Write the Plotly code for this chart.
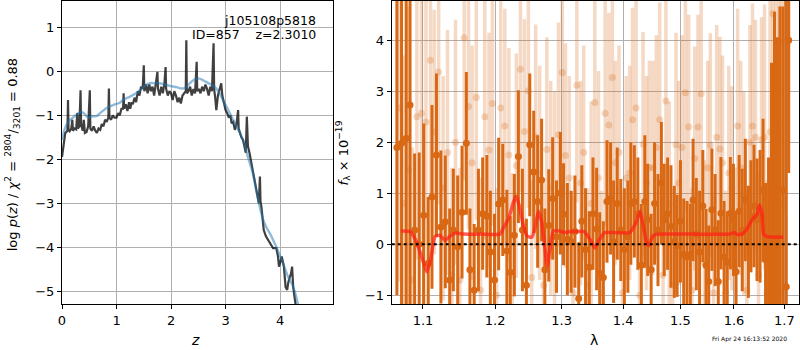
import plotly.graph_objects as go

# ---------------- left panel: redshift PDF ----------------
z_grid = [0.00, 0.02, 0.04, 0.06, 0.08, 0.10, 0.11, 0.12, 0.14, 0.17, 0.19, 0.20, 0.23, 0.26, 0.28, 0.29,
          0.32, 0.34, 0.35, 0.38, 0.40, 0.42, 0.45, 0.48, 0.51, 0.52, 0.55, 0.58, 0.61, 0.64, 0.67, 0.70,
          0.73, 0.76, 0.79, 0.82, 0.85, 0.86, 0.87, 0.90, 0.93, 0.96, 1.00, 1.03, 1.06, 1.09, 1.12, 1.13,
          1.14, 1.17, 1.20, 1.23, 1.25, 1.28, 1.30, 1.33, 1.36, 1.39, 1.42, 1.45, 1.48, 1.50, 1.51, 1.54,
          1.57, 1.60, 1.63, 1.66, 1.69, 1.72, 1.75, 1.76, 1.79, 1.82, 1.85, 1.88, 1.90, 1.91, 1.94, 1.97,
          2.00, 2.03, 2.06, 2.09, 2.12, 2.15, 2.18, 2.21, 2.24, 2.27, 2.28, 2.29, 2.32, 2.35, 2.38, 2.41,
          2.44, 2.47, 2.48, 2.51, 2.54, 2.57, 2.60, 2.63, 2.66, 2.69, 2.72, 2.75, 2.78, 2.79, 2.81, 2.83,
          2.86, 2.89, 2.92, 2.94, 2.97, 3.00, 3.03, 3.06, 3.09, 3.11, 3.14, 3.17, 3.20, 3.23, 3.24, 3.26,
          3.29, 3.32, 3.35, 3.37, 3.39, 3.41, 3.44, 3.47, 3.50, 3.53, 3.57, 3.61, 3.63, 3.64, 3.66, 3.70,
          3.74, 3.78, 3.82, 3.87, 3.93, 3.96, 3.98, 4.01, 4.03, 4.07, 4.10, 4.13, 4.15, 4.18, 4.20, 4.22,
          4.24, 4.28, 4.32]
log_pz = [-1.95, -1.75, -1.50, -1.40, -1.38, -1.35, -0.65, -1.32, -1.36, -1.30, -1.10, -1.35, -1.30, -1.32, -0.95, -1.30,
          -1.25, -0.43, -1.20, -1.35, -1.10, -1.40, -1.38, -1.25, -0.43, -1.30, -1.35, -1.25, -1.35, -1.40, -1.30, -1.33,
          -1.20, -1.25, -1.10, -1.15, -1.05, -0.39, -1.05, -1.10, -1.00, -1.05, -1.05, -0.95, -1.00, -0.85, -0.85, -0.50,
          -0.85, -0.75, -0.90, -0.70, -0.85, -0.70, -0.75, -0.60, -0.70, -0.45, -0.55, -0.35, -0.40, 0.14, -0.45, -0.30,
          -0.50, -0.30, -0.45, -0.35, -0.55, -0.30, -0.01, -0.40, -0.55, -0.35, -0.50, -0.25, 0.10, -0.40, -0.55, -0.45,
          -0.50, -0.65, -0.45, -0.55, -0.70, -0.60, -0.73, -0.55, -0.50, -0.45, 0.71, -0.50, -0.45, -0.35, -0.55, -0.40,
          -0.50, 0.22, -0.45, -0.40, -0.50, -0.35, -0.45, -0.30, -0.40, -0.55, -0.35, -0.45, 0.64, -0.40, -0.60, -0.88,
          -0.55, -0.40, -0.27, -0.55, -0.70, -0.88, -0.95, -1.05, -1.00, -1.18, -1.15, -1.33, -1.20, -0.88, -1.30, -1.41,
          -1.50, -1.56, -1.75, -1.85, -1.03, -1.70, -1.86, -2.05, -2.32, -2.45, -2.77, -3.00, -2.39, -2.95, -3.11, -3.61,
          -3.75, -3.83, -3.92, -4.02, -4.02, -4.20, -4.44, -4.30, -4.21, -4.44, -4.90, -4.97, -4.80, -4.67, -4.60, -4.44,
          -4.90, -5.27, -5.60]

z_smooth = [0.00, 0.04, 0.08, 0.14, 0.20, 0.27, 0.34, 0.40, 0.48, 0.55, 0.63, 0.70, 0.80, 0.87, 0.95, 1.05,
            1.12, 1.20, 1.36, 1.50, 1.61, 1.70, 1.79, 1.90, 1.98, 2.10, 2.22, 2.30, 2.37, 2.45, 2.50, 2.57,
            2.64, 2.72, 2.80, 2.88, 2.95, 3.05, 3.14, 3.23, 3.32, 3.41, 3.50, 3.57, 3.64, 3.69, 3.75, 3.82,
            3.87, 3.95, 4.05, 4.15, 4.24, 4.33, 4.38]
log_pz_smooth = [-1.56, -1.35, -1.22, -1.12, -1.05, -0.98, -0.92, -0.95, -1.05, -1.02, -1.02, -0.95, -0.85, -0.80, -0.76, -0.72,
                 -0.65, -0.60, -0.50, -0.35, -0.27, -0.27, -0.27, -0.30, -0.33, -0.36, -0.39, -0.33, -0.24, -0.17, -0.16, -0.19,
                 -0.24, -0.29, -0.35, -0.48, -0.65, -0.88, -1.10, -1.32, -1.56, -1.95, -2.32, -2.75, -3.15, -3.38, -3.55, -3.70,
                 -3.83, -4.05, -4.36, -4.68, -4.90, -5.30, -5.60]

# ---------------- right panel: spectrum ----------------
wave_a = [1.066, 1.072, 1.078, 1.083, 1.089, 1.095, 1.101, 1.107, 1.112, 1.118, 1.124, 1.130, 1.136, 1.141, 1.147, 1.153,
          1.159, 1.164, 1.170, 1.176, 1.182, 1.188, 1.193, 1.199, 1.205, 1.211, 1.217, 1.222, 1.228, 1.234, 1.240, 1.246,
          1.251, 1.257, 1.263, 1.269, 1.274, 1.280, 1.286, 1.292, 1.298, 1.303, 1.309, 1.315, 1.321, 1.327, 1.332, 1.338,
          1.344, 1.350, 1.356, 1.361, 1.367, 1.373, 1.379, 1.384, 1.390, 1.396, 1.402, 1.408, 1.413, 1.419, 1.425, 1.431,
          1.437, 1.442, 1.448, 1.454, 1.460, 1.466, 1.471, 1.477, 1.483, 1.489, 1.494, 1.500, 1.506, 1.512, 1.518, 1.523,
          1.529, 1.535, 1.541, 1.547, 1.552, 1.558, 1.564, 1.570, 1.575, 1.581, 1.587, 1.593, 1.599, 1.604, 1.610, 1.616,
          1.622, 1.628, 1.633, 1.639, 1.645, 1.651, 1.657, 1.662, 1.668, 1.674, 1.680, 1.686, 1.691, 1.697, 1.704, 1.709]
flux_a = [1.90, 1.98, 2.08, 2.73, 0.28, 0.00, 0.57, -0.37, 0.93, 1.75, 0.34, 0.44, -0.70, 0.28, -0.05, 0.63,
          1.98, -0.50, -0.90, 0.28, 0.60, 0.55, -0.15, -0.70, 0.79, 0.87, -0.13, -0.55, 0.18, 1.72, 0.28, -0.80,
          1.95, 1.42, 0.84, 1.26, -0.50, 0.37, 0.90, 0.15, 1.00, 0.59, 0.10, 0.05, 0.25, -1.06, 0.45, -0.10,
          -0.45, 0.60, 0.30, -0.57, -0.65, 0.84, 0.90, 0.05, 0.80, 0.28, -0.10, 0.15, 0.80, 0.84, 0.60, -0.41,
          0.84, 0.48, -0.50, 0.80, 0.28, 1.20, 0.48, 0.60, 0.35, 0.05, -0.03, 0.45, -0.20, -0.25, -0.20, 0.87,
          0.20, -0.15, 0.75, -0.41, -0.73, 0.68, 0.28, -0.73, 0.61, -0.25, -0.35, 0.61, 0.48, -0.54, 0.65, 0.28,
          0.87, 0.05, 0.55, 0.75, 0.48, 0.55, 1.06, -0.30, -0.10, 1.06, 1.06, 1.06, 1.06, 1.06, -0.83, 4.00]
err_a = [2.9, 4.5, 3.8, 4.5, 1.5, 1.8, 1.8, 1.3, 1.8, 1.6, 1.5, 1.3, 1.4, 1.2, 1.4, 1.3,
         1.4, 1.2, 1.3, 1.2, 1.1, 1.2, 1.2, 1.3, 1.3, 1.1, 1.2, 1.1, 1.2, 1.3, 1.2, 1.3,
         1.4, 1.2, 1.3, 1.2, 1.2, 1.1, 1.2, 1.1, 1.2, 1.0, 1.1, 1.0, 1.1, 1.1, 1.1, 1.2,
         1.1, 1.1, 1.2, 1.2, 1.1, 1.2, 1.1, 1.2, 1.1, 1.0, 1.2, 1.1, 1.2, 1.1, 1.1, 1.2,
         1.3, 1.1, 1.1, 1.2, 1.1, 1.2, 1.1, 1.1, 1.2, 1.1, 1.0, 1.2, 1.1, 1.1, 1.0, 1.2,
         1.1, 1.2, 1.1, 1.1, 1.1, 1.2, 1.1, 1.2, 1.1, 1.1, 1.0, 1.1, 1.1, 1.2, 1.1, 1.2,
         1.2, 1.1, 1.1, 1.2, 1.2, 1.3, 1.4, 1.5, 1.8, 2.5, 3.5, 3.0, 3.6, 3.6, 6.0, 2.6]

wave_b = [1.069, 1.075, 1.081, 1.086, 1.092, 1.098, 1.104, 1.110, 1.115, 1.121, 1.127, 1.133, 1.139, 1.144, 1.150, 1.156,
          1.162, 1.167, 1.173, 1.179, 1.185, 1.191, 1.196, 1.202, 1.208, 1.214, 1.220, 1.225, 1.231, 1.237, 1.243, 1.249,
          1.254, 1.260, 1.266, 1.272, 1.277, 1.283, 1.289, 1.295, 1.301, 1.306, 1.312, 1.318, 1.324, 1.330, 1.335, 1.341,
          1.347, 1.353, 1.359, 1.364, 1.370, 1.376, 1.382, 1.387, 1.393, 1.399, 1.405, 1.411, 1.416, 1.422, 1.428, 1.434,
          1.440, 1.445, 1.451, 1.457, 1.463, 1.469, 1.474, 1.480, 1.486, 1.492, 1.497, 1.503, 1.509, 1.515, 1.521, 1.526,
          1.532, 1.538, 1.544, 1.550, 1.555, 1.561, 1.567, 1.573, 1.578, 1.584, 1.590, 1.596, 1.602, 1.607, 1.613, 1.619,
          1.625, 1.631, 1.636, 1.642, 1.648, 1.654, 1.660, 1.665, 1.671, 1.677, 1.683, 1.689, 1.694, 1.700]
flux_b = [2.67, 0.80, 1.46, -0.70, 2.50, 2.57, 2.40, 3.61, 2.20, 3.38, 1.10, 1.80, -0.60, 2.00, -0.70, 4.05,
          2.70, 1.60, 2.88, -0.90, 2.50, 1.85, 2.76, -1.00, 2.67, 2.32, 1.75, -0.60, 1.54, 3.43, 2.21, 3.01,
          -0.65, 2.11, 1.40, -0.80, 1.86, 1.10, 0.90, 2.15, 3.37, 1.74, 1.30, -0.95, 3.12, 1.20, 1.80, -0.80,
          0.80, 2.78, 1.30, -0.95, 2.57, 2.34, 3.27, 1.60, 1.80, -0.95, 1.30, 1.40, 2.44, 2.67, -1.00, 1.96,
          1.20, 1.50, 1.50, 1.90, 2.44, -0.60, 2.81, 0.80, -0.80, 1.95, 1.20, 1.90, 2.97, 2.30, -0.90, 1.68,
          2.30, 2.95, -0.35, 1.50, 1.94, -0.95, 2.10, 1.87, 1.60, -0.95, 1.40, 1.10, -0.50, 2.32, 1.50, 1.00,
          -0.90, 2.00, 2.32, 2.10, -0.60, 2.05, 2.10, -0.95, 2.20, 4.52, 2.40, 2.30, 0.80, 4.00]
err_b = [3.4, 2.9, 3.2, 2.6, 2.8, 2.6, 2.4, 2.7, 2.4, 2.6, 2.2, 2.4, 2.1, 2.4, 2.2, 2.8,
         2.4, 2.3, 2.4, 2.2, 2.4, 2.3, 2.4, 2.1, 2.4, 2.3, 2.1, 2.0, 2.2, 2.4, 2.2, 2.3,
         1.9, 2.2, 2.1, 2.0, 2.2, 2.1, 2.1, 2.2, 2.4, 2.2, 2.0, 1.9, 2.3, 2.0, 2.1, 1.9,
         2.0, 2.3, 2.1, 2.0, 2.2, 2.2, 2.4, 2.0, 2.1, 1.9, 2.0, 2.1, 2.2, 2.3, 2.0, 2.2,
         2.1, 2.1, 2.1, 2.2, 2.3, 1.9, 2.3, 2.0, 1.9, 2.2, 2.0, 2.2, 2.3, 2.2, 2.0, 2.2,
         2.2, 2.3, 2.0, 2.1, 2.2, 1.9, 2.2, 2.2, 2.1, 2.0, 2.1, 2.0, 2.0, 2.3, 2.1, 2.0,
         1.9, 2.3, 2.4, 2.3, 2.0, 2.4, 2.6, 2.2, 3.2, 3.9, 3.6, 3.9, 4.4, 3.4]

model_wave = [1.071, 1.083, 1.090, 1.098, 1.105, 1.110, 1.116, 1.122, 1.130, 1.138, 1.146, 1.155, 1.180, 1.207, 1.212, 1.2196,
              1.227, 1.231, 1.236, 1.241, 1.247, 1.254, 1.259, 1.264, 1.269, 1.274, 1.2775, 1.282, 1.287, 1.297, 1.305, 1.313,
              1.3245, 1.336, 1.345, 1.353, 1.361, 1.369, 1.384, 1.411, 1.417, 1.4226, 1.429, 1.435, 1.4395, 1.444, 1.4505, 1.459,
              1.520, 1.591, 1.600, 1.607, 1.616, 1.625, 1.636, 1.645, 1.650, 1.655, 1.658, 1.665, 1.6975]
model_flux = [0.26, 0.25, 0.10, -0.23, -0.54, -0.31, 0.15, 0.18, 0.08, 0.18, 0.22, 0.20, 0.20, 0.20, 0.32, 0.51,
              0.84, 0.94, 0.72, 0.39, 0.16, 0.14, 0.32, 0.65, 0.45, -0.07, -0.43, -0.07, 0.26, 0.26, 0.23, 0.25,
              0.25, 0.25, 0.10, -0.07, 0.10, 0.23, 0.23, 0.23, 0.32, 0.45, 0.65, 0.32, 0.06, -0.03, 0.16, 0.20,
              0.20, 0.20, 0.23, 0.19, 0.20, 0.30, 0.49, 0.59, 0.77, 0.59, 0.20, 0.15, 0.14]

x_ticks_left = [0, 1, 2, 3, 4]
y_ticks_left = [-5, -4, -3, -2, -1, 0, 1]
x_ticks_right = [1.1, 1.2, 1.3, 1.4, 1.5, 1.6, 1.7]
x_ticklabels_right = ["1.1", "1.2", "1.3", "1.4", "1.5", "1.6", "1.7"]
y_ticks_right = [-1, 0, 1, 2, 3, 4]

ORANGE = "rgb(217,104,20)"
ORANGE_LIGHT = "rgba(217,104,20,0.25)"
FONT = "DejaVu Sans"

fig = go.Figure()

fig.add_trace(go.Scatter(x=z_grid, y=log_pz, mode="lines",
                         line=dict(color="rgba(0,0,0,0.75)", width=2.2),
                         xaxis="x", yaxis="y", showlegend=False))
fig.add_trace(go.Scatter(x=z_smooth, y=log_pz_smooth, mode="lines",
                         line=dict(color="rgba(31,119,180,0.5)", width=2.4, shape="spline"),
                         xaxis="x", yaxis="y", showlegend=False))

fig.add_trace(go.Scatter(x=wave_b, y=flux_b, mode="markers",
                         marker=dict(color=ORANGE_LIGHT, size=7, line=dict(width=0)),
                         error_y=dict(type="data", array=err_b, color=ORANGE_LIGHT, thickness=3.5, width=0),
                         xaxis="x2", yaxis="y2", showlegend=False, cliponaxis=True))
fig.add_trace(go.Scatter(x=wave_a, y=flux_a, mode="markers",
                         marker=dict(color=ORANGE, size=7, line=dict(width=0)),
                         error_y=dict(type="data", array=err_a, color=ORANGE, thickness=3, width=0),
                         xaxis="x2", yaxis="y2", showlegend=False, cliponaxis=True))
fig.add_trace(go.Scatter(x=model_wave, y=model_flux, mode="lines",
                         line=dict(color="rgba(255,30,20,0.7)", width=3.5, shape="spline", smoothing=0.4),
                         xaxis="x2", yaxis="y2", showlegend=False))

axis_common = dict(showgrid=True, gridcolor="#b0b0b0", gridwidth=1, zeroline=False,
                   showline=True, linecolor="black", linewidth=1, mirror=True,
                   ticks="outside", ticklen=4, tickcolor="black", automargin=False,
                   tickfont=dict(family=FONT, size=13, color="black"))

fig.update_layout(
    width=800, height=350,
    margin=dict(l=62, r=1, t=1, b=46, autoexpand=False),
    plot_bgcolor="white", paper_bgcolor="white",
    font=dict(family=FONT, color="black"),
    xaxis=dict(domain=[0, 0.3677], range=[0, 4.97], tickvals=x_ticks_left, anchor="y", **axis_common),
    yaxis=dict(domain=[0, 1], range=[-5.29, 1.6], tickvals=y_ticks_left, anchor="x", **axis_common),
    xaxis2=dict(domain=[0.4474, 1], type="log", range=[0.02505, 0.23813],
                tickvals=x_ticks_right, ticktext=x_ticklabels_right, anchor="y2", **axis_common),
    yaxis2=dict(domain=[0, 1], range=[-1.17, 4.77], tickvals=y_ticks_right, anchor="x2", **axis_common),
    shapes=[dict(type="line", xref="x2 domain", yref="y2", x0=0, x1=1, y0=0, y1=0,
                 line=dict(color="black", width=2, dash="dot"), layer="above")],
)

ann = [
    dict(text="j105108p5818", x=0.3478, y=0.937, xanchor="right", yanchor="middle", font=dict(size=12.5)),
    dict(text="ID=857\u00a0\u00a0\u00a0\u00a0z=2.3010", x=0.3478, y=0.890, xanchor="right", yanchor="middle",
         font=dict(size=12.5)),
    dict(text="log <i>p</i>(<i>z</i>) / <i>χ</i><sup>2</sup> = <sup>2804</sup>/<sub>3201</sub> = 0.88",
         x=-0.0674, y=0.492, textangle=-90, xanchor="center", yanchor="middle", font=dict(size=13)),
    dict(text="<i>f</i><sub>λ</sub> × 10<sup>−19</sup>", x=0.3817, y=0.498, textangle=-90,
         xanchor="center", yanchor="middle", font=dict(size=13)),
    dict(text="<i>z</i>", x=0.1805, y=-0.119, xanchor="center", yanchor="middle", font=dict(size=14)),
    dict(text="λ", x=0.7222, y=-0.119, xanchor="center", yanchor="middle", font=dict(size=14)),
    dict(text="Fri Apr 24 16:13:52 2020", x=0.9328, y=-0.1155, xanchor="center", yanchor="middle",
         font=dict(size=6)),
]
for a in ann:
    a.update(xref="paper", yref="paper", showarrow=False)
    a.setdefault("font", {})
    a["font"].setdefault("family", FONT)
    a["font"].setdefault("color", "black")
fig.update_layout(annotations=ann)

fig.write_html("out.html", config={"displayModeBar": False},
               post_script="document.body.style.margin='0';document.body.style.padding='0';")
